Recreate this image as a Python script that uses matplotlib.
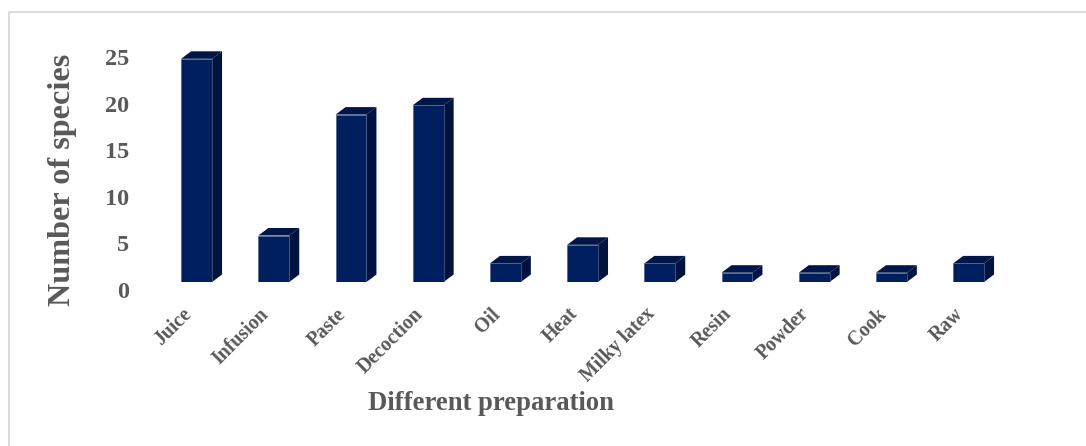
import matplotlib
matplotlib.use("Agg")
import matplotlib.pyplot as plt
from matplotlib.lines import Line2D
from matplotlib.transforms import ScaledTranslation

# Number of species per preparation method
categories = ["Juice", "Infusion", "Paste", "Decoction", "Oil", "Heat",
              "Milky latex", "Resin", "Powder", "Cook", "Raw"]
species = [24, 5, 18, 19, 2, 4, 2, 1, 1, 1, 2]
yticks = [0, 5, 10, 15, 20, 25]

W, H = 1086, 446
FRONT = "#001f5f"
SIDE = "#00133f"
TOP = "#001648"
EDGE = "#4f628f"
GREY = "#595959"

plt.rcParams["font.family"] = ["Liberation Serif", "DejaVu Serif"]
plt.rcParams["font.weight"] = "bold"

fig = plt.figure(figsize=(W / 100, H / 100), dpi=100)
fig.patch.set_facecolor("white")

# chart border, only the top and left edges are visible
fig.add_artist(Line2D([8.5 / W, 8.5 / W, 1], [0, 1 - 11.5 / H, 1 - 11.5 / H],
                      transform=fig.transFigure, color="#dcdcdc", linewidth=1.4))

ax = fig.add_axes([158 / W, 1 - 282 / H, 849.2 / W, 232.5 / H])
ax.set_xlim(-0.5, 10.5)
ax.set_ylim(0, 25)
ax.patch.set_alpha(0)
for s in ax.spines.values():
    s.set_visible(False)

bar_w = 0.4
dx = 10 / 77.2  # depth of the fake 3D box, in data units
dy = 7.5 / 9.3

x = list(range(len(categories)))
ax.bar(x, species, width=bar_w, color=FRONT, edgecolor=EDGE, linewidth=0.5, zorder=3)
for xi, v in zip(x, species):
    l, r = xi - bar_w / 2, xi + bar_w / 2
    ax.fill([r, r + dx, r + dx, r], [0, dy, v + dy, v], color=SIDE, lw=0, zorder=2, clip_on=False)
    ax.fill([l, l + dx, r + dx, r], [v, v + dy, v + dy, v], color=TOP, lw=0, zorder=2, clip_on=False)

ax.set_yticks(yticks)
ax.tick_params(axis="both", length=0)
ax.tick_params(axis="y", pad=21, labelsize=17.5, labelcolor=GREY)
ax.set_xticks(x)
ax.set_xticklabels(categories, rotation=45, ha="right", va="center", rotation_mode="anchor",
                   fontsize=14.2, color=GREY)
ax.tick_params(axis="x", pad=21)

# tick labels sit a little below their gridline position, as on the box floor
yshift = ScaledTranslation(0, -7.5 / 100, fig.dpi_scale_trans)
for lab in ax.get_yticklabels():
    lab.set_transform(lab.get_transform() + yshift)
xshift = ScaledTranslation(-8 / 100, 0, fig.dpi_scale_trans)
for lab in ax.get_xticklabels():
    lab.set_transform(lab.get_transform() + xshift)

fig.text(62.5 / W, 1 - 180 / H, "Number of species", rotation=90, ha="center", va="center",
         fontsize=23.2, color=GREY)
fig.text(491.5 / W, 1 - 403 / H, "Different preparation", ha="center", va="center",
         fontsize=19.2, color=GREY)

fig.savefig("out.png", dpi=100)
